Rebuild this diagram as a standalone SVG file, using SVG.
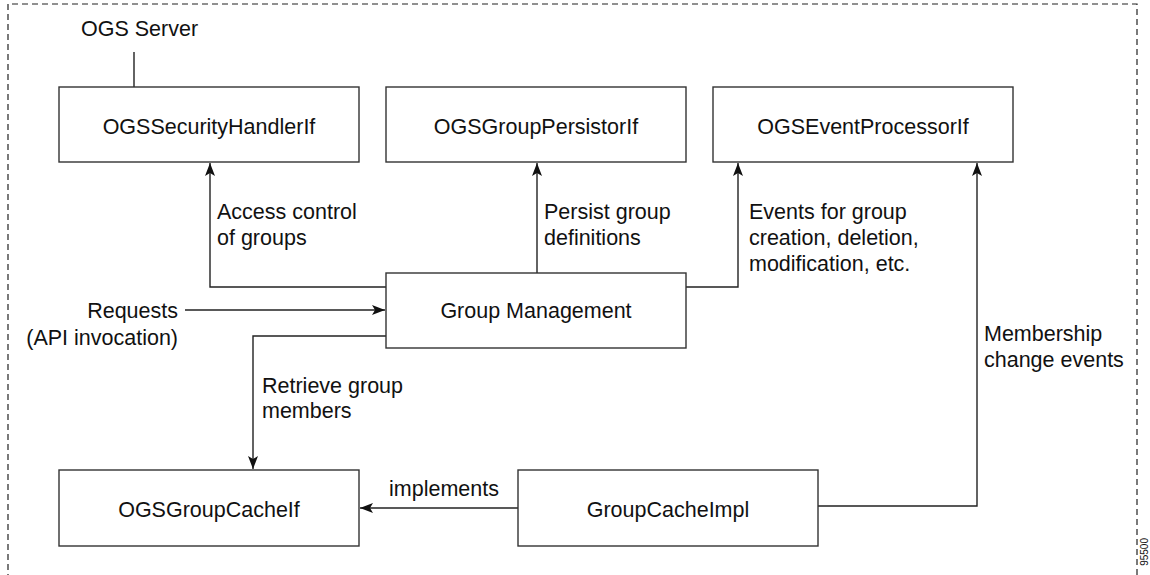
<svg xmlns="http://www.w3.org/2000/svg" width="1150" height="575" viewBox="0 0 1150 575">
<defs>
<style>
text{font-family:"Liberation Sans",Arial,Helvetica,sans-serif;font-size:21.5px;fill:#111}
.box{fill:#fff;stroke:#333;stroke-width:1.4}
.c{text-anchor:middle}
.r{text-anchor:end}
.ln{fill:none;stroke:#222;stroke-width:1.4}
.arr{marker-end:url(#ah)}
.frame{fill:none;stroke:#222;stroke-width:1.2;stroke-dasharray:6 4}
</style>
<marker id="ah" viewBox="0 0 13 10" refX="13" refY="5" markerWidth="13" markerHeight="10" markerUnits="userSpaceOnUse" orient="auto">
<path d="M0,0 L13,5 L0,10 L3,5 z" fill="#111"/>
</marker>
</defs>
<rect width="1150" height="575" fill="#fff"/>
<path class="frame" d="M8,580 L8,4 L1137,4 L1137,580"/>
<text x="81" y="36">OGS Server</text>
<line class="ln" x1="134" y1="52" x2="134" y2="87"/>
<text x="1148" y="538" style="font-size:10px" transform="rotate(-90 1148 538)" text-anchor="end">95500</text>

<g id="connectors">
<path class="ln arr" d="M386,287 L210,287 L210,163"/>
<path class="ln arr" d="M537,273 L537,163"/>
<path class="ln arr" d="M686,287 L738,287 L738,163"/>
<path class="ln arr" d="M818,506 L977,506 L977,163"/>
<path class="ln arr" d="M185,310 L385,310"/>
<path class="ln arr" d="M386,336 L253,336 L253,469"/>
<path class="ln arr" d="M518,508 L360,508"/>
<text x="217" y="219">Access control</text>
<text x="217" y="245">of groups</text>
<text x="544" y="219">Persist group</text>
<text x="544" y="245">definitions</text>
<text x="749" y="219">Events for group</text>
<text x="749" y="245">creation, deletion,</text>
<text x="749" y="271">modification, etc.</text>
<text x="984" y="341">Membership</text>
<text x="984" y="367">change events</text>
<text x="178" y="318" class="r">Requests</text>
<text x="178" y="345" class="r">(API invocation)</text>
<text x="262" y="393">Retrieve group</text>
<text x="262" y="418">members</text>
<text x="389" y="496">implements</text>
</g>

<g id="n-security"><rect class="box" x="59" y="87" width="300" height="75"/><text class="c" x="209" y="134">OGSSecurityHandlerIf</text></g>
<g id="n-persistor"><rect class="box" x="386" y="87" width="300" height="75"/><text class="c" x="536" y="134">OGSGroupPersistorIf</text></g>
<g id="n-event"><rect class="box" x="713" y="87" width="300" height="75"/><text class="c" x="863" y="134">OGSEventProcessorIf</text></g>
<g id="n-gm"><rect class="box" x="386" y="273" width="300" height="75"/><text class="c" x="536" y="318">Group Management</text></g>
<g id="n-cacheif"><rect class="box" x="59" y="470" width="300" height="76"/><text class="c" x="209" y="517">OGSGroupCacheIf</text></g>
<g id="n-cacheimpl"><rect class="box" x="518" y="470" width="300" height="76"/><text class="c" x="668" y="517">GroupCacheImpl</text></g>
</svg>
